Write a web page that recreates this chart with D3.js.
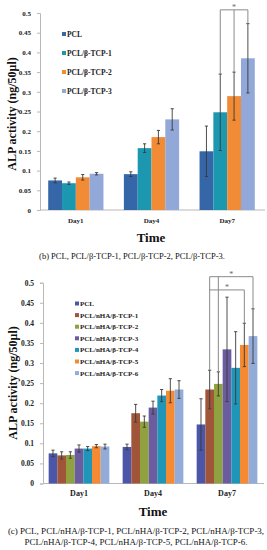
<!DOCTYPE html>
<html><head><meta charset="utf-8">
<script src="https://cdn.jsdelivr.net/npm/d3@7"></script>
<style>
html,body{margin:0;padding:0;background:#fff;}
svg{display:block;}
text{font-family:"Liberation Serif","Times New Roman",serif;}
</style></head>
<body>
<svg id="c" width="267" height="550"></svg>
<script>
// ---------- data ----------
const days = ["Day1", "Day4", "Day7"];
const tickValues = [0, 0.05, 0.1, 0.15, 0.2, 0.25, 0.3, 0.35, 0.4, 0.45, 0.5];
const tickLabels = ["0", "0.05", "0.1", "0.15", "0.2", "0.25", "0.3", "0.35", "0.4", "0.45", "0.5"];

const seriesB = ["PCL", "PCL/β-TCP-1", "PCL/β-TCP-2", "PCL/β-TCP-3"];
const valuesB = [
  [0.075, 0.091, 0.149],
  [0.068, 0.157, 0.248],
  [0.083, 0.185, 0.289],
  [0.092, 0.230, 0.385]
];
const errorsB = [
  [0.006, 0.006, 0.064],
  [0.003, 0.011, 0.097],
  [0.007, 0.017, 0.061],
  [0.003, 0.027, 0.088]
];
const colorsB = ["#3566a8", "#1c97b0", "#f28b35", "#92a8d8"];
const captionB = ["(b) PCL, PCL/β-TCP-1, PCL/β-TCP-2, PCL/β-TCP-3."];

const seriesC = ["PCL", "PCL/nHA/β-TCP-1", "PCL/nHA/β-TCP-2", "PCL/nHA/β-TCP-3",
                 "PCL/nHA/β-TCP-4", "PCL/nHA/β-TCP-5", "PCL/nHA/β-TCP-6"];
const valuesC = [
  [0.075, 0.091, 0.147],
  [0.070, 0.175, 0.234],
  [0.071, 0.154, 0.248],
  [0.087, 0.189, 0.334],
  [0.087, 0.219, 0.288],
  [0.093, 0.231, 0.345],
  [0.092, 0.234, 0.367]
];
const errorsC = [
  [0.008, 0.007, 0.064],
  [0.009, 0.022, 0.048],
  [0.008, 0.014, 0.030],
  [0.009, 0.016, 0.130],
  [0.005, 0.015, 0.090],
  [0.004, 0.030, 0.054],
  [0.006, 0.022, 0.068]
];
const colorsC = ["#4b56a8", "#a0553a", "#8fa23f", "#6a5c9e", "#1f96b8", "#f58a32", "#93abd9"];
const captionC = ["(c) PCL, PCL/nHA/β-TCP-1, PCL/nHA/β-TCP-2, PCL/nHA/β-TCP-3,",
                  "PCL/nHA/β-TCP-4, PCL/nHA/β-TCP-5, PCL/nHA/β-TCP-6."];

// significance brackets (series indices at Day7, level in data units)
const bracketsB = [{level: 0.508, from: 1, to: 3, drops: [1, 2, 3]}];
const bracketsC = [
  {level: 0.515, from: 1, to: 6, drops: [1, 2, 6]},
  {level: 0.482, from: 1, to: 5, drops: [5]}
];

// ---------- drawing ----------
const svg = d3.select("#c");

function drawChart(cfg) {
  const g = svg.append("g");
  const y = d3.scaleLinear().domain([0, 0.5]).range([cfg.y0, cfg.y1]);
  const x0 = d3.scaleBand().domain(days).range(cfg.xr).paddingInner(0).paddingOuter(0);
  const gw = x0.bandwidth() * cfg.groupFrac;
  const x1 = d3.scaleBand().domain(d3.range(cfg.series.length)).range([0, gw]).padding(0);
  const gx = d => x0(d) + (x0.bandwidth() - gw) / 2;

  // y axis
  const yAxis = d3.axisLeft(y).tickValues(tickValues)
    .tickFormat((d, i) => tickLabels[i]).tickSize(3).tickPadding(cfg.tickPad);
  const ya = g.append("g").attr("transform", `translate(${cfg.axisX},0)`).call(yAxis);
  ya.select(".domain").attr("stroke", "#b8b8b8");
  ya.selectAll(".tick line").attr("stroke", "#b8b8b8");
  ya.selectAll(".tick text").attr("font-family", "Liberation Serif, serif")
    .attr("font-weight", "bold").attr("font-size", cfg.tickFont).attr("fill", "#222");

  // x axis line
  g.append("line").attr("x1", cfg.axisX).attr("x2", cfg.xr[1])
    .attr("y1", y(0)).attr("y2", y(0)).attr("stroke", "#b8b8b8");

  // bars
  cfg.series.forEach((s, si) => {
    days.forEach((d, di) => {
      const v = cfg.values[si][di];
      g.append("rect")
        .attr("x", gx(d) + x1(si)).attr("width", x1.bandwidth())
        .attr("y", y(v)).attr("height", y(0) - y(v))
        .attr("fill", cfg.colors[si]);
    });
  });
  // error bars
  cfg.series.forEach((s, si) => {
    days.forEach((d, di) => {
      const v = cfg.values[si][di], e = cfg.errors[si][di];
      const cx = gx(d) + x1(si) + x1.bandwidth() / 2;
      const col = "#3a3a3a";
      g.append("line").attr("x1", cx).attr("x2", cx).attr("y1", y(v + e)).attr("y2", y(v - e))
        .attr("stroke", col).attr("stroke-width", 0.9);
      [v + e, v - e].forEach(t => g.append("line")
        .attr("x1", cx - 1.6).attr("x2", cx + 1.6).attr("y1", y(t)).attr("y2", y(t))
        .attr("stroke", col).attr("stroke-width", 0.9));
    });
  });

  // brackets
  const cxOf = si => gx("Day7") + x1(si) + x1.bandwidth() / 2;
  cfg.brackets.forEach(b => {
    g.append("line").attr("x1", cxOf(b.from)).attr("x2", cxOf(b.to))
      .attr("y1", y(b.level)).attr("y2", y(b.level)).attr("stroke", "#8a8a8a");
    b.drops.forEach(si => {
      const top = cfg.values[si][2] + cfg.errors[si][2];
      g.append("line").attr("x1", cxOf(si)).attr("x2", cxOf(si))
        .attr("y1", y(b.level)).attr("y2", y(top)).attr("stroke", "#8a8a8a");
    });
    g.append("text").attr("x", (cxOf(b.from) + cxOf(b.to)) / 2).attr("y", y(b.level) + 0.5)
      .attr("text-anchor", "middle").attr("font-size", 8).attr("fill", "#666").text("*");
  });

  // legend
  cfg.series.forEach((s, si) => {
    const ly = cfg.legY + si * cfg.legStep;
    g.append("rect").attr("x", cfg.legX).attr("y", ly - 2).attr("width", 4).attr("height", 4)
      .attr("fill", cfg.colors[si]);
    g.append("text").attr("x", cfg.legX + 5).attr("y", ly).attr("dy", "0.35em")
      .attr("font-weight", "bold").attr("font-size", cfg.legFont).attr("fill", "#222").text(s);
  });

  // category labels
  days.forEach(d => {
    g.append("text").attr("x", x0(d) + x0.bandwidth() / 2).attr("y", cfg.dayY).attr("dy", "0.35em")
      .attr("text-anchor", "middle").attr("font-weight", "bold").attr("font-size", cfg.dayFont)
      .attr("fill", "#222").text(d);
  });

  // axis titles
  g.append("text").attr("x", cfg.timeX).attr("y", cfg.timeY).attr("dy", "0.35em")
    .attr("text-anchor", "middle").attr("font-weight", "bold").attr("font-size", 13)
    .attr("fill", "#111").text("Time");
  g.append("text").attr("transform", `translate(${cfg.ytX},${cfg.ytY}) rotate(-90)`)
    .attr("dy", "0.35em").attr("text-anchor", "middle").attr("font-weight", "bold")
    .attr("font-size", 12).attr("fill", "#111").text("ALP activity (ng/50μl)");

  // caption
  cfg.caption.forEach((c, i) => {
    g.append("text").attr("x", cfg.capX).attr("y", cfg.capY + i * cfg.capStep).attr("dy", "0.35em")
      .attr("text-anchor", "middle").attr("font-size", cfg.capFont).attr("fill", "#111").text(c);
  });
}

drawChart({
  series: seriesB, values: valuesB, errors: errorsB, colors: colorsB, brackets: bracketsB,
  caption: captionB,
  y0: 210, y1: 13, xr: [38, 265], axisX: 40, groupFrac: 0.73,
  tickPad: 6, tickFont: 7,
  legX: 62, legY: 34, legStep: 19, legFont: 7.5,
  dayY: 220.5, dayFont: 7,
  timeX: 151, timeY: 237, ytX: 12, ytY: 114,
  capX: 132, capY: 256, capStep: 11, capFont: 8.5
});

drawChart({
  series: seriesC, values: valuesC, errors: errorsC, colors: colorsC, brackets: bracketsC,
  caption: captionC,
  y0: 483.5, y1: 282.7, xr: [42, 264], axisX: 43, groupFrac: 0.82,
  tickPad: 6, tickFont: 7.5,
  legX: 75, legY: 303.5, legStep: 11.6, legFont: 7,
  dayY: 493.5, dayFont: 8,
  timeX: 153, timeY: 511, ytX: 13, ytY: 383,
  capX: 136, capY: 530.5, capStep: 11.7, capFont: 9
});
</script>
</body></html>
